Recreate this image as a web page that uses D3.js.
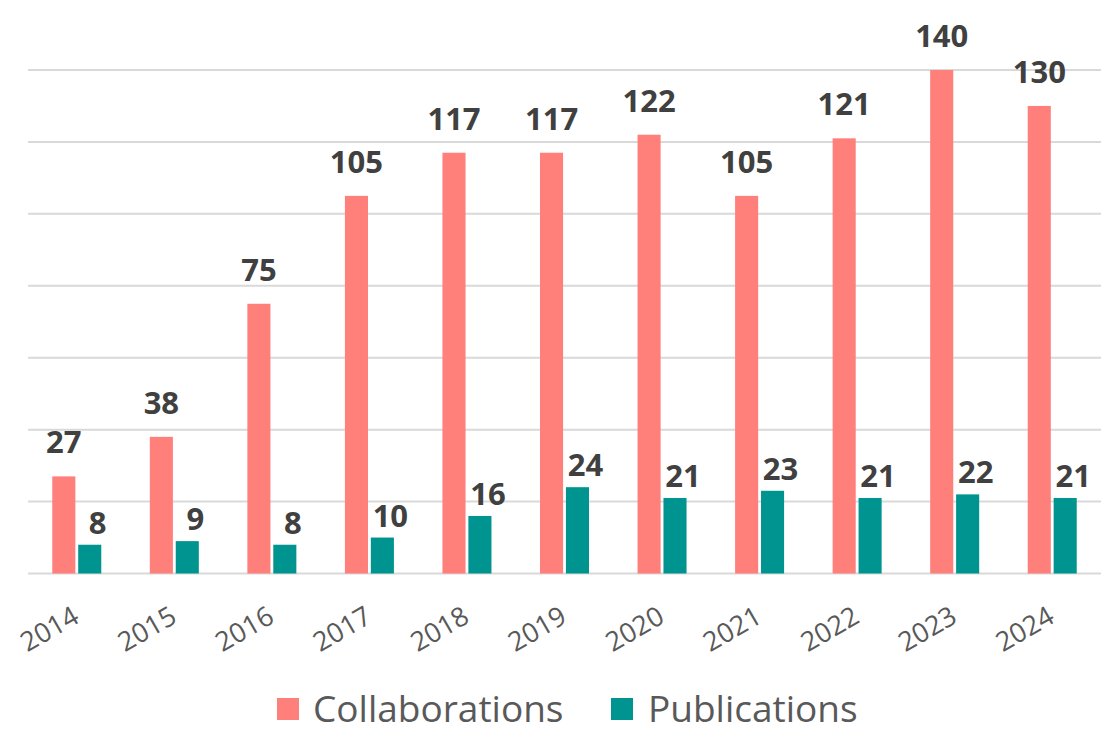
<!DOCTYPE html>
<html>
<head>
<meta charset="utf-8">
<script src="https://cdn.jsdelivr.net/npm/d3@7"></script>
<style>
  html, body { margin: 0; padding: 0; background: #fff; }
  svg { display: block; }
</style>
</head>
<body>
<svg id="chart" width="1117" height="741"></svg>
<script>
const years = ["2014","2015","2016","2017","2018","2019","2020","2021","2022","2023","2024"];
const collaborations = [27, 38, 75, 105, 117, 117, 122, 105, 121, 140, 130];
const publications = [8, 9, 8, 10, 16, 24, 21, 23, 21, 22, 21];
const seriesNames = ["Collaborations", "Publications"];
const seriesColors = ["#FF7F7B", "#009490"];
const yTicks = [0, 20, 40, 60, 80, 100, 120, 140];

(function () {
const svg = d3.select("#chart");
const plotLeft = 28, plotRight = 1101, plotTop = 70, plotBottom = 573.5;

const x = d3.scaleBand().domain(years).range([plotLeft, plotRight]).paddingInner(0).paddingOuter(0);
const xs = d3.scaleBand().domain(seriesNames).range([0, 49]).paddingInner(0.11).paddingOuter(0);
const y = d3.scaleLinear().domain([0, 140]).range([plotBottom, plotTop]);

// gridlines
svg.append("g").selectAll("line").data(yTicks).join("line")
  .attr("x1", plotLeft).attr("x2", plotRight)
  .attr("y1", d => y(d)).attr("y2", d => y(d))
  .attr("stroke", "#d9d9d9").attr("stroke-width", 2);

const data = years.map((yr, i) => ({ year: yr, values: [collaborations[i], publications[i]] }));
const groupOffset = (x.bandwidth() - 49) / 2;

const g = svg.append("g").selectAll("g").data(data).join("g")
  .attr("transform", d => `translate(${x(d.year) + groupOffset},0)`);

g.selectAll("rect").data(d => d.values.map((v, j) => ({ v, s: seriesNames[j], j }))).join("rect")
  .attr("x", d => xs(d.s))
  .attr("width", xs.bandwidth())
  .attr("y", d => y(d.v))
  .attr("height", d => y(0) - y(d.v))
  .attr("fill", d => seriesColors[d.j]);

g.selectAll("text").data(d => d.values.map((v, j) => ({ v, s: seriesNames[j], j }))).join("text")
  .attr("x", d => xs(d.s) + xs.bandwidth() / 2 + (d.j === 1 ? 8 : 0))
  .attr("y", d => y(d.v) - (d.j === 0 ? 23 : 11))
  .attr("text-anchor", "middle")
  .attr("font-family", "'Open Sans', sans-serif")
  .attr("font-weight", "bold")
  .attr("font-size", 31)
  .attr("fill", "#404040")
  .text(d => d.v);

// x axis labels
svg.append("g").selectAll("text").data(years).join("text")
  .attr("transform", d => `translate(${x(d) + x.bandwidth() / 2 + 4},${plotBottom + 48}) rotate(-30)`)
  .attr("text-anchor", "end")
  .attr("font-family", "'Open Sans', sans-serif")
  .attr("font-size", 27)
  .attr("fill", "#595959")
  .text(d => d);

// legend
const legendItems = [
  { name: seriesNames[0], color: seriesColors[0], sx: 277, tx: 313 },
  { name: seriesNames[1], color: seriesColors[1], sx: 611, tx: 648 }
];
const lg = svg.append("g");
lg.selectAll("rect").data(legendItems).join("rect")
  .attr("x", d => d.sx).attr("y", 698).attr("width", 22).attr("height", 22)
  .attr("fill", d => d.color);
lg.selectAll("text").data(legendItems).join("text")
  .attr("x", d => d.tx).attr("y", 722)
  .attr("font-family", "'Open Sans', sans-serif")
  .attr("font-size", 37)
  .attr("fill", "#595959")
  .text(d => d.name);
})();
</script>
</body>
</html>
